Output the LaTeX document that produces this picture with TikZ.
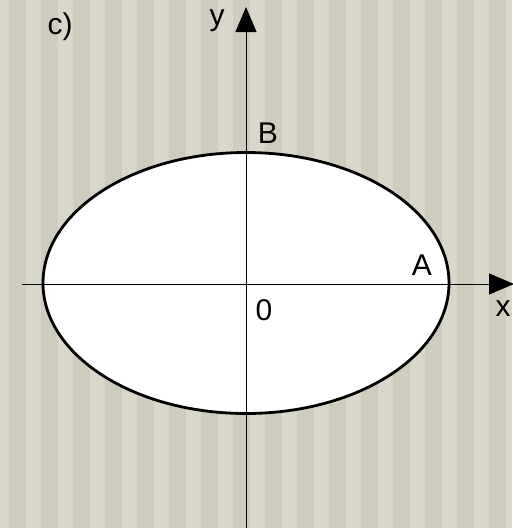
\documentclass[tikz,border=0pt]{standalone}
\usepackage{fontspec}
\setmainfont{Liberation Sans}
\usetikzlibrary{arrows.meta}
\definecolor{bglight}{RGB}{216,215,201}
\definecolor{bgdark}{RGB}{206,205,189}
\tikzset{
  axis/.style={line width=1pt, -{Triangle[length=25pt,width=21pt]}},
  lbl/.style={font=\fontsize{30}{34}\selectfont, inner sep=0pt}
}
\begin{document}
\begin{tikzpicture}[x=1pt,y=-1pt]
\fill[bglight] (0,0) rectangle (512,528);
\useasboundingbox (0,0) rectangle (512,528);
\foreach \i in {0,...,15} {
  \fill[bgdark] ({9+32*\i},0) rectangle ({26+32*\i},528);
}
\coordinate (O) at (246,283);
\fill[white] (O) ellipse [x radius=203, y radius=130.5];
\coordinate (xs) at (22,284);
\coordinate (xe) at (514,284);
\coordinate (ys) at (246,528);
\coordinate (ye) at (246,7);
\draw[axis] (xs) -- (xe);
\draw[axis] (ys) -- (ye);
\draw[line width=2.8pt] (O) ellipse [x radius=203, y radius=130.5];
\node[lbl] (c) at (60,27) {c)};
\node[lbl] (y) at (217,21) {y};
\node[lbl] (B) at (268,133) {B};
\node[lbl] (A) at (422,265) {A};
\node[lbl] (zero) at (264,310) {0};
\node[lbl] (x) at (503,309) {x};
\end{tikzpicture}
\end{document}
